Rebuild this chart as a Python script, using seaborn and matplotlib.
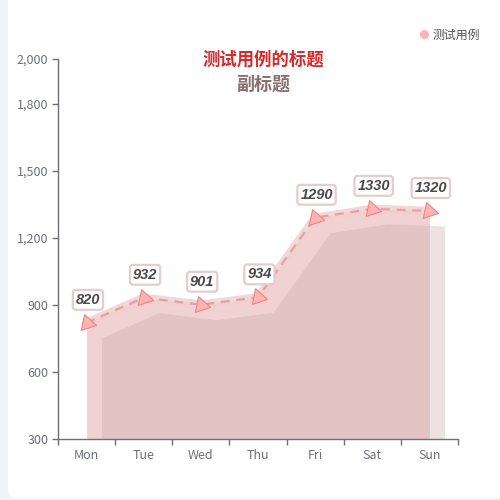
import matplotlib
matplotlib.use("Agg")
from matplotlib import pyplot as plt
from matplotlib import transforms
from matplotlib.lines import Line2D
from matplotlib.patches import FancyBboxPatch
import pandas as pd
import seaborn as sns

days = ['Mon', 'Tue', 'Wed', 'Thu', 'Fri', 'Sat', 'Sun']
values = [820, 932, 901, 934, 1290, 1330, 1320]
y_ticks = [300, 600, 900, 1200, 1500, 1800, 2000]
series_name = '测试用例'
title = '测试用例的标题'
subtitle = '副标题'

df = pd.DataFrame({'day': days, 'pos': range(len(days)), 'value': values})

sns.set_theme(style='white')
plt.rcParams['font.family'] = ['Noto Sans CJK SC', 'DejaVu Sans']

fig = plt.figure(figsize=(5, 5), dpi=100)
fig.patch.set_facecolor('#f2f3f7')
card = FancyBboxPatch((8 / 500, 2 / 500), 1.1, 1.1, boxstyle='round,pad=0,rounding_size=0.014',
                      transform=fig.transFigure, facecolor='white', edgecolor='none', zorder=-5)
fig.patches.append(card)

ax = fig.add_axes([58 / 500, 1 - 439 / 500, 400 / 500, 380 / 500])
ax.set_facecolor('none')

# area, then its shadow shifted 15px right and down
shift = transforms.ScaledTranslation(0.15, -0.15, fig.dpi_scale_trans)
ax.fill_between(df['pos'], df['value'], 300, color='#f0d2d2', linewidth=0, zorder=0.9)
ax.fill_between(df['pos'], df['value'], 300, color='#c6aca9', alpha=0.35,
                linewidth=0, transform=ax.transData + shift, zorder=1)

# wide soft band + dashed line
sns.lineplot(data=df, x='pos', y='value', ax=ax, color='#f2cfcf', linewidth=6, alpha=0.85, zorder=2)
sns.lineplot(data=df, x='pos', y='value', ax=ax, color='#e0a2a2', linewidth=1.6,
             dashes=False, zorder=3).lines[-1].set_dashes([4, 3])
sns.scatterplot(data=df, x='pos', y='value', ax=ax, marker=(3, 0, 18), s=180,
                color='#ffb3b3', edgecolor='#f08484', linewidth=0.8, zorder=4)

for p, v in zip(df['pos'], df['value']):
    ax.annotate(str(v), (p, v), xytext=(1, 16.5), textcoords='offset points',
                ha='center', va='center', fontsize=10.5, fontstyle='italic', fontweight='bold',
                family='Liberation Sans', color='#4a4a4a', zorder=6,
                bbox=dict(boxstyle='round,pad=0.2,rounding_size=0.2', facecolor='white',
                          edgecolor='#e6cccc', linewidth=1.6))

ax.set_xlim(-0.5, 6.5)
ax.set_ylim(300, 2000)
ax.set_yticks(y_ticks)
ax.set_yticklabels([f'{t:,}' for t in y_ticks])
ax.set_xticks([i - 0.5 for i in range(len(days) + 1)])
ax.set_xticklabels([])
ax.set_xticks(range(len(days)), minor=True)
ax.set_xticklabels(days, minor=True)
ax.set_xlabel('')
ax.set_ylabel('')

for side in ['top', 'right']:
    ax.spines[side].set_visible(False)
for side in ['left', 'bottom']:
    ax.spines[side].set_color('#6e7079')
    ax.spines[side].set_linewidth(1)
ax.tick_params(axis='both', which='major', length=4, width=1, color='#6e7079',
               labelcolor='#6e7079', labelsize=9, pad=3, direction='out')
ax.tick_params(axis='x', which='major', bottom=True)
ax.tick_params(axis='y', left=True)
ax.tick_params(axis='x', which='minor', length=0, labelcolor='#6e7079', labelsize=9, pad=7)

fig.text(263 / 500, 1 - 60 / 500, title, ha='center', va='center', fontsize=12.5,
         fontweight='bold', color='#d42a2a')
fig.text(263 / 500, 1 - 84 / 500, subtitle, ha='center', va='center', fontsize=13,
         fontweight='bold', color='#8c6f6f')

handle = Line2D([], [], marker='o', linestyle='', color='#ffb3b3', markersize=5.5)
fig.legend([handle], [series_name], loc='center right', bbox_to_anchor=(480 / 500, 1 - 35 / 500),
           frameon=False, handletextpad=0.2, handlelength=1.0, borderpad=0, borderaxespad=0,
           labelcolor='#555555', fontsize=8.6)

fig.savefig('out.png', dpi=100, facecolor=fig.get_facecolor())
